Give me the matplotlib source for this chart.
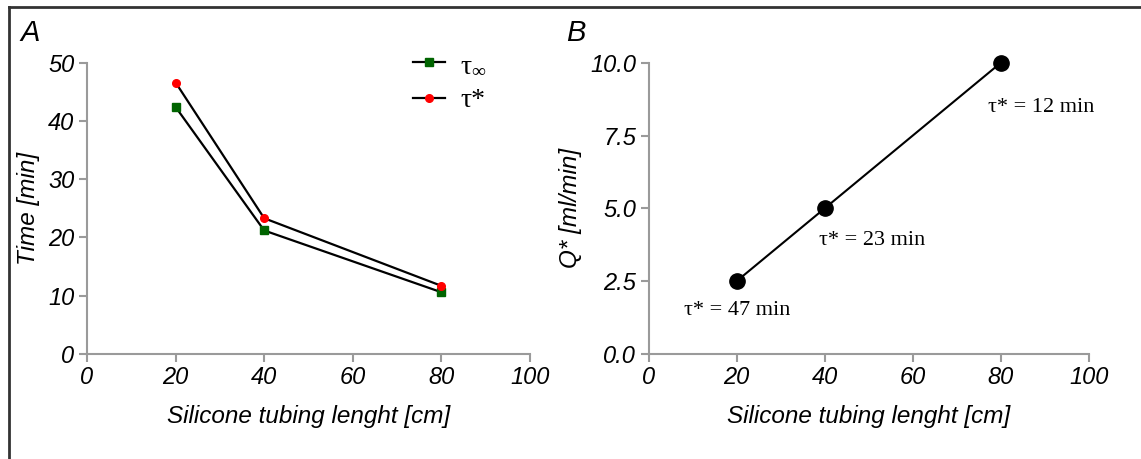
import matplotlib
matplotlib.use("Agg")
import matplotlib.pyplot as plt
from matplotlib.lines import Line2D

plt.rcParams['mathtext.fontset'] = 'custom'
plt.rcParams['mathtext.rm'] = 'Liberation Serif'
plt.rcParams['mathtext.it'] = 'Liberation Serif'

# Tubing lengths [cm]
lengths = [20, 40, 80]
# Panel A: characteristic times [min]
tau_inf = [42.4, 21.2, 10.6]
tau_star = [46.6, 23.3, 11.7]
# Panel B: flow rate Q* [ml/min]
q_star = [2.5, 5.0, 10.0]
q_labels = ["τ* = 47 min", "τ* = 23 min", "τ* = 12 min"]
q_label_pos = [(20.2, 1.48), (50.8, 3.88), (89.1, 8.45)]

x_ticks = [0, 20, 40, 60, 80, 100]
a_yticks = [0, 10, 20, 30, 40, 50]
b_yticks = [0.0, 2.5, 5.0, 7.5, 10.0]

W, H = 1141, 459
fig = plt.figure(figsize=(W / 100, H / 100), dpi=100)

AXIS_GRAY = "#9a9a9a"
sans_it = dict(family="Liberation Sans", style="italic")
TICK_FS = 17
LABEL_FS = 17.5


def style_axes(ax):
    for s in ("top", "right"):
        ax.spines[s].set_visible(False)
    for s in ("left", "bottom"):
        ax.spines[s].set_color(AXIS_GRAY)
        ax.spines[s].set_linewidth(1.5)
    ax.tick_params(direction="out", length=6, width=1.5, color=AXIS_GRAY,
                   labelsize=TICK_FS, pad=3)
    for lab in ax.get_xticklabels() + ax.get_yticklabels():
        lab.set_fontfamily("Liberation Sans")
        lab.set_fontstyle("italic")
    ax.set_xlim(0, 100)
    ax.set_xticks(x_ticks)


# ---- Panel A ----
axA = fig.add_axes([87 / W, 1 - 354 / H, (530 - 87) / W, (354 - 62.7) / H])
axA.plot(lengths, tau_inf, color="black", lw=1.6, marker="s", ms=6,
         mfc="#006400", mec="#006400", clip_on=False, label=r"τ$_{\infty}$")
axA.plot(lengths, tau_star, color="black", lw=1.6, marker="o", ms=5.5,
         mfc="#ff0000", mec="#ff0000", clip_on=False, label="τ*")
axA.set_ylim(0, 50)
axA.set_yticks(a_yticks)
axA.set_yticklabels([str(v) for v in a_yticks])
axA.set_xticklabels([str(v) for v in x_ticks])
style_axes(axA)
axA.set_xlabel("Silicone tubing lenght [cm]", fontsize=LABEL_FS, labelpad=11, **sans_it)
axA.set_ylabel("Time [min]", fontsize=LABEL_FS, labelpad=6, **sans_it)
leg = axA.legend(loc="upper left", bbox_to_anchor=(0.68, 1.12), frameon=False,
                 prop=dict(family="Liberation Serif", size=20),
                 handlelength=1.15, handletextpad=0.55, labelspacing=0.35)

# ---- Panel B ----
axB = fig.add_axes([648.5 / W, 1 - 354 / H, (1089 - 648.5) / W, (354 - 62.7) / H])
axB.plot(lengths, q_star, color="black", lw=1.5, marker="o", ms=11,
         mfc="black", mec="black", clip_on=False)
axB.set_ylim(0, 10)
axB.set_yticks(b_yticks)
axB.set_yticklabels([f"{v:.1f}" for v in b_yticks])
axB.set_xticklabels([str(v) for v in x_ticks])
style_axes(axB)
axB.set_xlabel("Silicone tubing lenght [cm]", fontsize=LABEL_FS, labelpad=11, **sans_it)
axB.set_ylabel("Q* [ml/min]", fontsize=LABEL_FS, labelpad=6, **sans_it)
for txt, (tx, ty) in zip(q_labels, q_label_pos):
    axB.text(tx, ty, txt, ha="center", va="center", family="Liberation Serif",
             fontsize=16)

# Panel letters
fig.text(30 / W, 1 - 33 / H, "A", fontsize=21, ha="center", va="center", **sans_it)
fig.text(576 / W, 1 - 33 / H, "B", fontsize=21, ha="center", va="center", **sans_it)

# Outer frame
frame_kw = dict(color="#333333", lw=2, transform=fig.transFigure)
fig.add_artist(Line2D([9 / W, 9 / W], [0, 1 - 7 / H], **frame_kw))
fig.add_artist(Line2D([9 / W, 1], [1 - 7 / H, 1 - 7 / H], **frame_kw))

fig.savefig("out.png", dpi=100)
